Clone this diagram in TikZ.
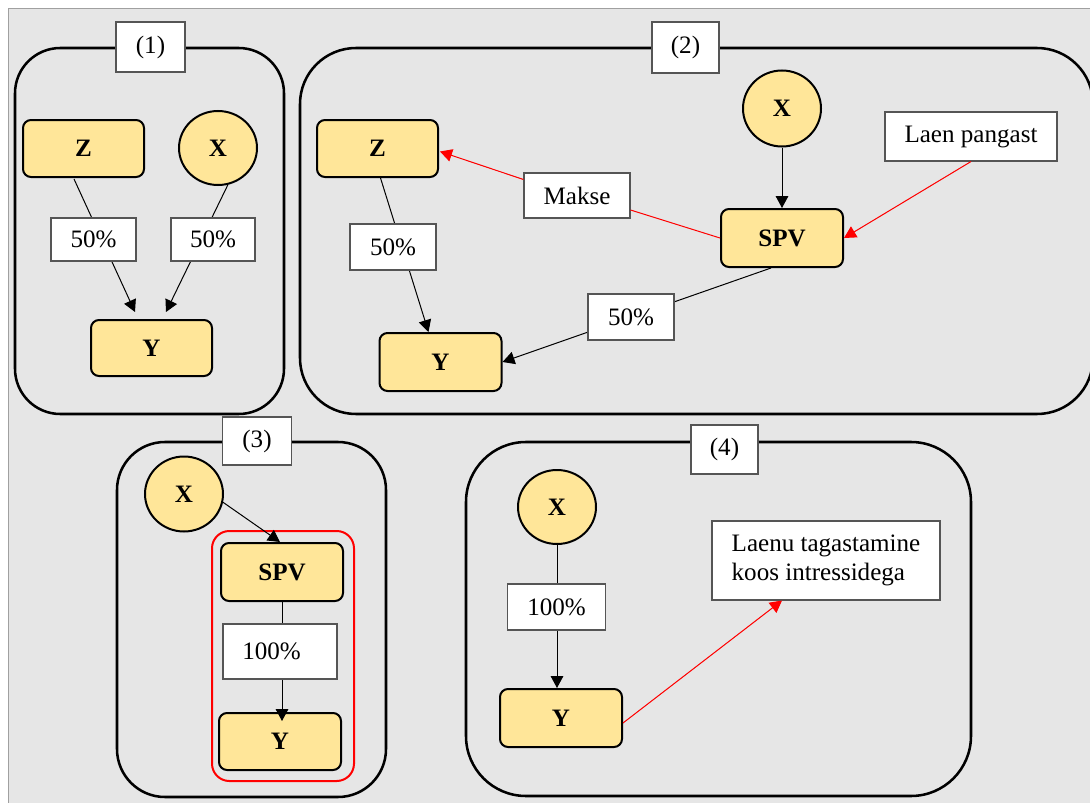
\documentclass[tikz,border=0pt]{standalone}
\usepackage{fontspec}
\setmainfont{Liberation Serif}
\usetikzlibrary{shapes.geometric,arrows.meta,calc}
\definecolor{bgc}{HTML}{E6E6E6}
\definecolor{entc}{HTML}{FFE699}
\definecolor{frm}{HTML}{A0A0A0}
\definecolor{lblc}{HTML}{555555}
\begin{document}
\begin{tikzpicture}[x=0.75pt,y=-0.75pt,
  sz/.style 2 args={minimum width=#1*0.75pt,minimum height=#2*0.75pt},
  txt/.style={font=\fontsize{18.8}{22}\selectfont},
  ent/.style={draw=black,line width=1.5pt,fill=entc,rounded corners=6pt,inner sep=0pt,font=\fontsize{18.8}{21}\selectfont\bfseries},
  actor/.style={ellipse,draw=black,line width=1.5pt,fill=entc,inner sep=0pt,font=\fontsize{18.8}{21}\selectfont\bfseries},
  lbl/.style={draw=lblc,line width=0.8pt,fill=white,inner sep=0pt,txt},
  panel/.style={draw=black,line width=1.9pt},
  conn/.style={line width=0.75pt,-{Triangle[length=9pt,width=9.5pt]}},
  pay/.style={conn,draw=red,fill=red}
]
\useasboundingbox (0,0) rectangle (1090,803);
\fill[white] (0,0) rectangle (1090,803);
\draw[frm,fill=bgc,line width=1.2pt] (8.5,8.5) rectangle (1110,830);

% panels
\draw[panel,rounded corners=34pt] (15,48) rectangle (284,414);
\draw[panel,rounded corners=42pt] (300,48) rectangle (1093,414);
\draw[panel,rounded corners=36pt] (117,442) rectangle (386,797);
\draw[panel,rounded corners=45pt] (466,442) rectangle (971,796);
\draw[red,line width=1.5pt,rounded corners=13pt] (212,531) rectangle (354,781);

% panel titles
\node[lbl,sz={69}{50}] (t1) at (150.5,47) {(1)};
\node[lbl,sz={67}{51}] (t2) at (685.5,47.5) {(2)};
\node[lbl,sz={69}{48}] (t3) at (257,441) {(3)};
\node[lbl,sz={67}{49}] (t4) at (724.5,449.5) {(4)};

% panel 1
\node[ent,sz={121}{57}] (z1) at (83.5,148.5) {Z};
\node[actor,sz={78}{74}] (x1) at (218,148) {X};
\node[ent,sz={121}{56}] (y1) at (151.5,348) {Y};

% panel 2
\node[ent,sz={121}{57}] (z2) at (377.5,148.5) {Z};
\node[actor,sz={78}{76}] (x2) at (782,108.5) {X};
\node[ent,sz={122}{58}] (spv2) at (782,238) {SPV};
\node[ent,sz={122}{58}] (y2) at (440.5,362) {Y};

% panel 3
\node[actor,sz={78}{75}] (x3) at (184,494) {X};
\node[ent,sz={122}{58}] (spv3) at (282,572) {SPV};
\node[ent,sz={122}{57}] (y3) at (280,741.5) {Y};

% panel 4
\node[actor,sz={78}{74}] (x4) at (557,507) {X};
\node[ent,sz={122}{58}] (y4) at (561,718) {Y};

% connectors
\draw[conn] ($(z1.south)+(-9.5,1)$) -- ($(y1.north)+(-16.5,-7)$);
\draw[conn] (x1.-75) -- ($(y1.north)+(14.5,-7)$);

\draw[conn] (x2.south) -- (spv2.north);
\draw[conn] ($(z2.south)+(3,0)$) -- ($(y2.north)+(-12,0)$);
\draw[conn] ($(spv2.south)+(-11,0)$) -- (y2.east);

\draw[conn] (x3.-12) -- ($(spv3.north)+(-2,0)$);
\draw[conn] (spv3.south) -- ($(spv3.south|-y3.north)+(0,9)$);

\draw[conn] (x4.south) -- (x4.south|-y4.north);

% labels (drawn on top of connectors)
\node[lbl,sz={85}{43}] (l1a) at (93.5,239.5) {50\%};
\node[lbl,sz={84}{43}] (l1b) at (213,239.5) {50\%};
\node[lbl,sz={86}{46}] (l2a) at (393,247) {50\%};
\node[lbl,sz={86}{46}] (l2b) at (631,317) {50\%};
\node[lbl,sz={106}{45}] (makse) at (577,195.5) {Makse};
\node[lbl,sz={172}{49}] (laen) at (971,136.5) {Laen pangast};
\node[lbl,sz={114}{55},text width=85.5pt,align=left,inner xsep=0pt] (l3) at (280,651.5) {\hspace*{14.5pt}100\%};
\node[lbl,sz={98}{46}] (l4) at (556.5,607) {100\%};
\node[lbl,sz={228}{79},align=left] (laenu) at (826,560.5) {Laenu tagastamine\\koos intressidega};

% red connectors
\draw[pay] (laen.south) -- (spv2.east);
\draw[red,line width=0.75pt] (spv2.west) -- (makse.south east |- 0,210);
\draw[pay] ($(makse.west)+(0,-16)$) -- ($(z2.east)+(1,3)$);
\draw[pay] ($(y4.east)+(0,5)$) -- ($(laenu.south)+(-44,0)$);
\end{tikzpicture}
\end{document}
